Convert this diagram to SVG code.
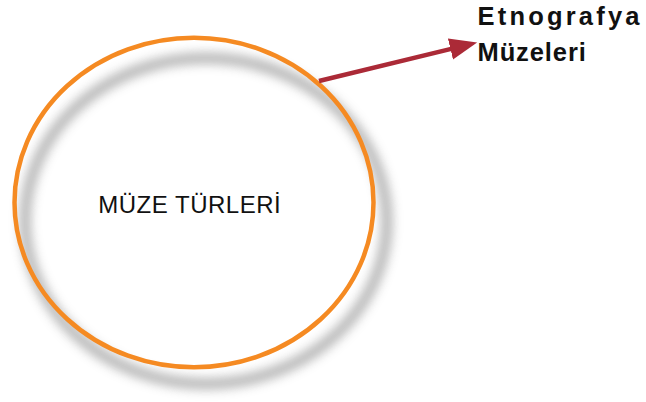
<svg xmlns="http://www.w3.org/2000/svg" width="646" height="402" viewBox="0 0 646 402">
  <style>
    .ring { fill: none; stroke: #F58A22; stroke-width: 4.5; }
    .shadow { fill: none; stroke: #8c8c8c; stroke-width: 10; opacity: 0.7; }
    .conn { fill: none; stroke: #AB2A37; stroke-width: 4.5; }
    .label { font-family: "Liberation Sans", Arial, Helvetica, sans-serif; fill: #111111; }
    .main { font-size: 24px; letter-spacing: 0.5px; }
    .side { font-size: 25.5px; font-weight: bold; }
  </style>
  <defs>
    <filter id="blur" x="-20%" y="-20%" width="140%" height="140%">
      <feGaussianBlur stdDeviation="5.5"/>
    </filter>
    <marker id="arrow" markerUnits="userSpaceOnUse" markerWidth="28" markerHeight="22" refX="5" refY="10.8" orient="auto">
      <path d="M0,0 L27.5,10.8 L0,21.6 Z" fill="#AB2A37"/>
    </marker>
  </defs>
  <rect width="646" height="402" fill="#ffffff"/>
  <g id="node-muze-turleri">
    <ellipse class="shadow" cx="206" cy="221" rx="181" ry="163" filter="url(#blur)"/>
    <ellipse class="ring" cx="194" cy="202.5" rx="179.5" ry="164.8"/>
    <text class="label main" x="98.3" y="213">MÜZE TÜRLERİ</text>
  </g>
  <g id="node-etnografya">
    <text class="label side" x="477.5" y="25" letter-spacing="3.2">Etnografya</text>
    <text class="label side" x="477.5" y="61" letter-spacing="0.9">Müzeleri</text>
  </g>
  <g id="connectors">
    <path class="conn" d="M319,81 L455.3,47.9" marker-end="url(#arrow)"/>
  </g>
</svg>
